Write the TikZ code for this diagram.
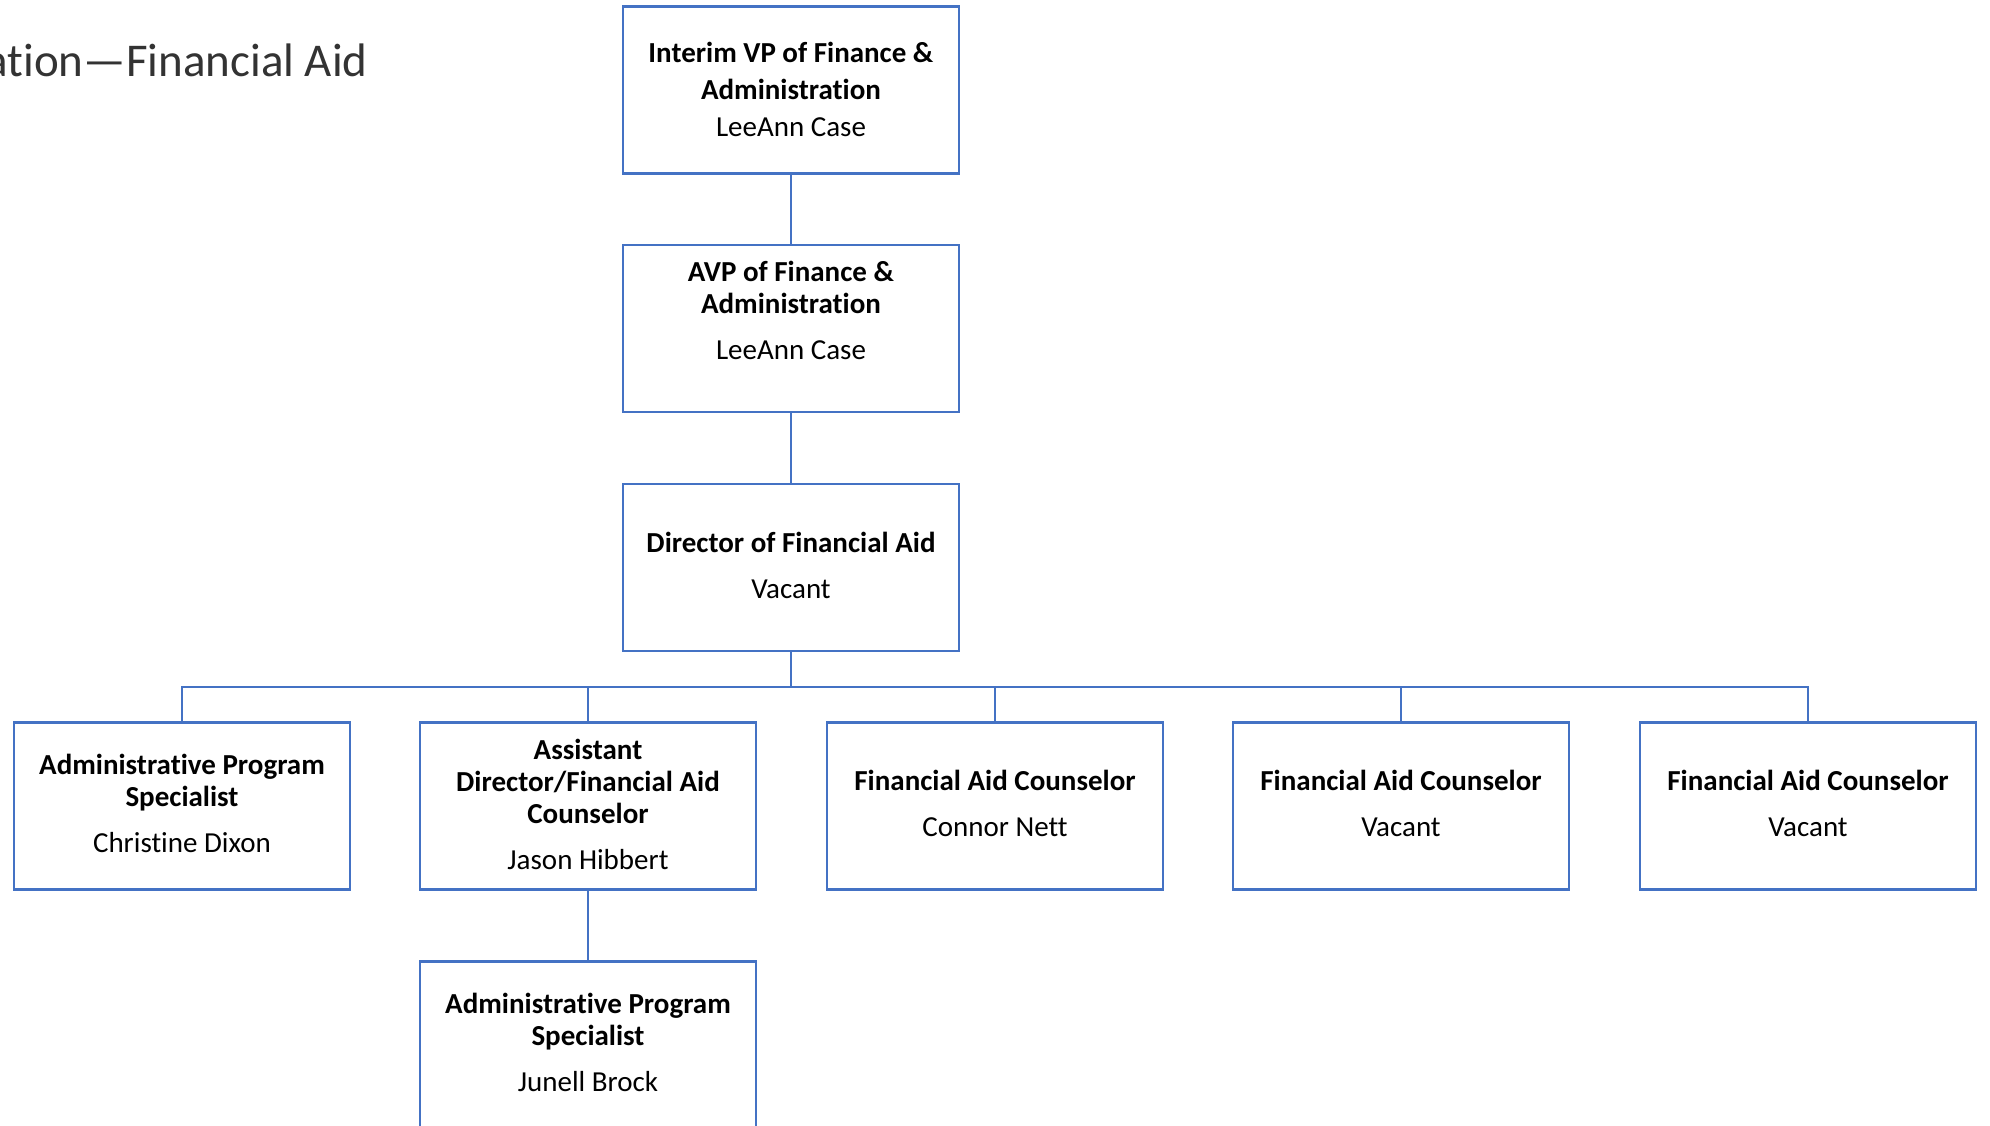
\documentclass[tikz,border=0pt]{standalone}
\usepackage{fontspec}
\setmainfont{Carlito}[Ligatures={NoCommon}]
\definecolor{obl}{HTML}{4472C4}
\begin{document}
\begin{tikzpicture}[x=1pt,y=-1pt,
  box/.style={draw=obl,line width=2.6pt,minimum width=336pt,minimum height=167pt,inner sep=0pt},
  txt/.style={align=center,inner sep=0pt,font=\fontsize{29}{32}\selectfont},
  con/.style={draw=obl,line width=2.4pt}]
\useasboundingbox (0,0) rectangle (1990,1125);
\node[anchor=base east,inner sep=0pt,font=\fontsize{47}{56}\selectfont,text=black!80] (title) at (368,76) {ation—Financial Aid};
% boxes
\node[box] (b1) at (791,90) {};
\node[box] (b2) at (791,328.5) {};
\node[box] (b3) at (791,567.5) {};
\node[box] (r1) at (182,806) {};
\node[box] (r2) at (588,806) {};
\node[box] (r3) at (995,806) {};
\node[box] (r4) at (1401,806) {};
\node[box] (r5) at (1808,806) {};
\node[box] (r6) at (588,1045) {};
% texts
\node[txt,font=\fontsize{29}{37}\selectfont] (t1) at (791,89) {\textbf{Interim VP of Finance \&}\\\textbf{Administration}\\LeeAnn Case};
\node[txt] (t2) at (791,310.5) {\textbf{AVP of Finance \&}\\\textbf{Administration}\\[14pt]LeeAnn Case};
\node[txt] (t3) at (791,565) {\textbf{Director of Financial Aid}\\[14pt]Vacant};
\node[txt] (tr1) at (182,803.5) {\textbf{Administrative Program}\\\textbf{Specialist}\\[14pt]Christine Dixon};
\node[txt] (tr2) at (588,804) {\textbf{Assistant}\\\textbf{Director/Financial Aid}\\\textbf{Counselor}\\[14pt]Jason Hibbert};
\node[txt] (tr3) at (995,803) {\textbf{Financial Aid Counselor}\\[14pt]Connor Nett};
\node[txt] (tr4) at (1401,803) {\textbf{Financial Aid Counselor}\\[14pt]Vacant};
\node[txt] (tr5) at (1808,803) {\textbf{Financial Aid Counselor}\\[14pt]Vacant};
\node[txt] (tr6) at (588,1042.5) {\textbf{Administrative Program}\\\textbf{Specialist}\\[14pt]Junell Brock};
% connectors
\coordinate (bus) at (791,687);
\draw[con] (b1.south) -- (b2.north);
\draw[con] (b2.south) -- (b3.north);
\draw[con] (b3.south) -- (bus);
\foreach \r in {r1,r2,r3,r4,r5} \draw[con] (bus) -| (\r.north);
\draw[con] (r2.south) -- (r6.north);
\end{tikzpicture}
\end{document}
